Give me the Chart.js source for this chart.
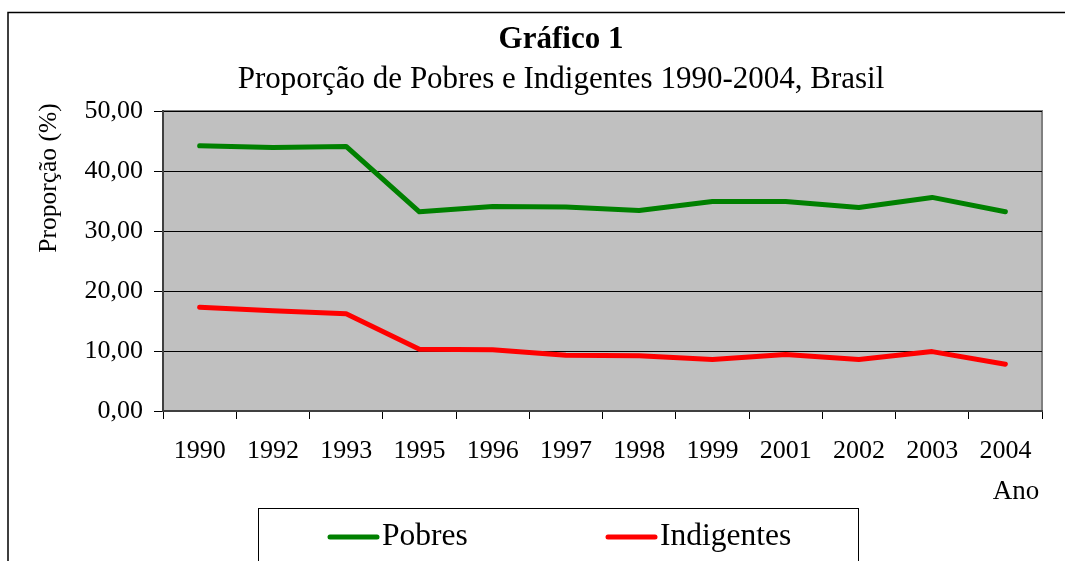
<!DOCTYPE html>
<html>
<head>
<meta charset="utf-8">
<script src="https://cdn.jsdelivr.net/npm/chart.js@4.4.1/dist/chart.umd.min.js"></script>
<style>
  body { margin: 0; background: #fff; }
</style>
</head>
<body>
<canvas id="grafico" width="1065" height="561"></canvas>
<script>
// Dados
var anos = ['1990', '1992', '1993', '1995', '1996', '1997', '1998', '1999', '2001', '2002', '2003', '2004'];
var pobres = [44.2, 43.9, 44.1, 33.2, 34.1, 34.0, 33.4, 34.9, 34.9, 33.9, 35.6, 33.2];
var indigentes = [17.3, 16.7, 16.2, 10.3, 10.2, 9.3, 9.2, 8.6, 9.4, 8.6, 9.9, 7.8];
var yMin = 0, yMax = 50, yStep = 10;

var serif = "'Liberation Serif', 'Times New Roman', serif";

// Moldura, títulos, fundo da área do gráfico e legenda
var decoracao = {
    id: 'decoracao',
    beforeDraw: function (chart) {
        var ctx = chart.ctx, a = chart.chartArea;
        ctx.save();
        ctx.fillStyle = '#fff';
        ctx.fillRect(0, 0, chart.width, chart.height);
        // moldura externa
        ctx.strokeStyle = '#000';
        ctx.lineWidth = 1.5;
        ctx.beginPath();
        ctx.moveTo(8, 600); ctx.lineTo(8, 12.5); ctx.lineTo(1080, 12.5);
        ctx.stroke();
        // área de plotagem
        ctx.fillStyle = '#C0C0C0';
        ctx.fillRect(a.left, a.top, a.right - a.left, a.bottom - a.top);
        ctx.strokeStyle = '#808080';
        ctx.lineWidth = 2;
        ctx.strokeRect(a.left, a.top, a.right - a.left, a.bottom - a.top);
        ctx.restore();
    },
    afterDraw: function (chart) {
        var ctx = chart.ctx;
        ctx.save();
        ctx.fillStyle = '#000';
        ctx.textAlign = 'center';
        ctx.textBaseline = 'middle';
        ctx.font = 'bold 31px ' + serif;
        ctx.fillText('Gráfico 1', 561, 40);
        ctx.font = '31px ' + serif;
        ctx.fillText('Proporção de Pobres e Indigentes 1990-2004, Brasil', 561, 80);

        // título do eixo y
        ctx.save();
        ctx.translate(49, 178);
        ctx.rotate(-Math.PI / 2);
        ctx.font = '25.5px ' + serif;
        ctx.fillText('Proporção (%)', 0, 0);
        ctx.restore();

        // título do eixo x
        ctx.font = '27px ' + serif;
        ctx.fillText('Ano', 1016, 492);

        // legenda
        ctx.strokeStyle = '#000';
        ctx.lineWidth = 1;
        ctx.strokeRect(258.5, 508.5, 600, 80);
        var itens = [{ x: 330 }, { x: 608 }];
        chart.data.datasets.forEach(function (ds, i) {
            var x = itens[i].x, y = 537;
            ctx.strokeStyle = ds.borderColor;
            ctx.lineWidth = 5;
            ctx.lineCap = 'round';
            ctx.beginPath();
            ctx.moveTo(x, y); ctx.lineTo(x + 47, y);
            ctx.stroke();
            ctx.fillStyle = '#000';
            ctx.textAlign = 'left';
            ctx.font = '31.5px ' + serif;
            ctx.fillText(ds.label, x + 52, y);
        });
        ctx.restore();
    }
};

var ctx = document.getElementById('grafico').getContext('2d');
var grafico = new Chart(ctx, {
    type: 'line',
    data: {
        labels: anos,
        datasets: [{
            label: 'Pobres',
            data: pobres,
            borderColor: '#008000',
            backgroundColor: '#008000',
            borderWidth: 5,
            pointRadius: 0,
            tension: 0,
            borderCapStyle: 'round',
            borderJoinStyle: 'round'
        }, {
            label: 'Indigentes',
            data: indigentes,
            borderColor: '#FF0000',
            backgroundColor: '#FF0000',
            borderWidth: 5,
            pointRadius: 0,
            tension: 0,
            borderCapStyle: 'round',
            borderJoinStyle: 'round'
        }]
    },
    options: {
        responsive: false,
        animation: false,
        devicePixelRatio: 1,
        layout: { padding: { left: 0, top: 111, right: 23, bottom: 0 } },
        plugins: {
            legend: { display: false },
            title: { display: false },
            tooltip: { enabled: false }
        },
        scales: {
            x: {
                offset: true,
                grid: { drawOnChartArea: false, drawTicks: true, tickLength: 8, color: '#000', offset: true },
                border: { color: '#404040', width: 2 },
                ticks: {
                    color: '#000',
                    font: { family: serif, size: 26 },
                    padding: 17,
                    maxRotation: 0,
                    autoSkip: false
                },
                afterFit: function (s) { s.height = 150; }
            },
            y: {
                min: yMin,
                max: yMax,
                grid: { color: '#000', lineWidth: 1, tickLength: 9 },
                border: { color: '#404040', width: 2 },
                ticks: {
                    stepSize: yStep,
                    color: '#000',
                    font: { family: serif, size: 26 },
                    padding: 11,
                    callback: function (v) { return v.toFixed(2).replace('.', ','); }
                },
                afterFit: function (s) { s.width = 163; }
            }
        }
    },
    plugins: [decoracao]
});
</script>
</body>
</html>
